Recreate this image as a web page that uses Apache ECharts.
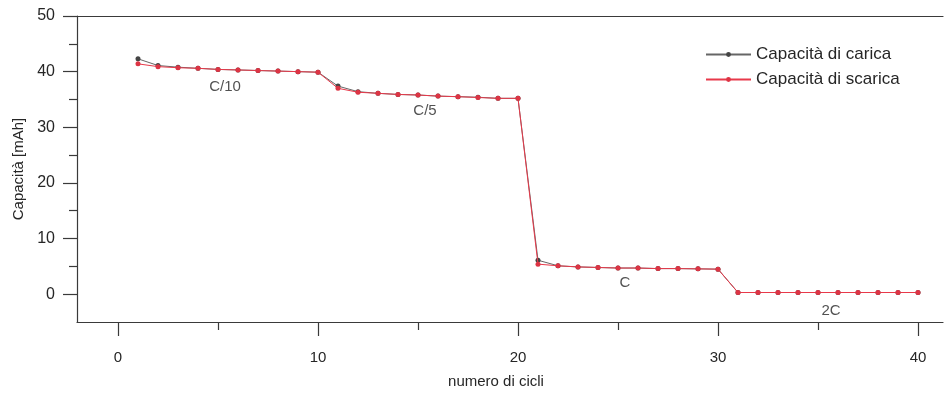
<!DOCTYPE html>
<html>
<head>
<meta charset="utf-8">
<script src="https://cdn.jsdelivr.net/npm/echarts@6/dist/echarts.min.js"></script>
<style>
  html, body { margin: 0; padding: 0; background: #fff; }
  #chart { width: 944px; height: 394px; }
</style>
</head>
<body>
<div id="chart"></div>
<script>
// Cycle number for each measurement
const cycles = [1,2,3,4,5,6,7,8,9,10,11,12,13,14,15,16,17,18,19,20,21,22,23,24,25,26,27,28,29,30,31,32,33,34,35,36,37,38,39,40];

// Charge capacity per cycle [mAh]
const chargeCapacity = [
  42.3, 41.1, 40.8, 40.6, 40.4, 40.3, 40.2, 40.1, 40.0, 39.9,
  37.4, 36.4, 36.1, 35.9, 35.8, 35.6, 35.5, 35.4, 35.2, 35.2,
  6.1, 5.1, 4.9, 4.8, 4.7, 4.7, 4.6, 4.6, 4.55, 4.5,
  0.3, 0.3, 0.3, 0.3, 0.3, 0.3, 0.3, 0.3, 0.3, 0.3
];

// Discharge capacity per cycle [mAh]
const dischargeCapacity = [
  41.4, 40.9, 40.7, 40.6, 40.4, 40.3, 40.2, 40.1, 40.0, 39.9,
  37.0, 36.3, 36.1, 35.9, 35.8, 35.6, 35.5, 35.35, 35.2, 35.2,
  5.4, 5.1, 4.9, 4.8, 4.7, 4.7, 4.6, 4.6, 4.55, 4.5,
  0.3, 0.3, 0.3, 0.3, 0.3, 0.3, 0.3, 0.3, 0.3, 0.3
];

// C-rate of each block of ten cycles, and where its tag sits (cycle, mAh)
const rateTags = ['C/10', 'C/5', 'C', '2C'];
const rateTagAnchors = [[5.35, 37.3], [15.35, 33.0], [25.35, 2.1], [35.65, -3.0]];

// Axis ticks
const xMajorTicks = [0, 10, 20, 30, 40];
const xMinorTicks = [5, 15, 25, 35];
const yMajorTicks = [0, 10, 20, 30, 40, 50];
const yMinorTicks = [5, 15, 25, 35, 45];

const seriesNames = ['Capacità di carica', 'Capacità di scarica'];

const FONT = 'Liberation Sans, Arial, sans-serif';
const AXIS_COLOR = '#3a3a3a';
const TEXT_COLOR = '#262626';

const chart = echarts.init(document.getElementById('chart'), null, { renderer: 'canvas' });

const xBase = { type: 'value', min: -2.05, max: 41.25 };
const yBase = { type: 'value', min: -5, max: 50 };
const lineOf = show => ({ show: show, onZero: false, lineStyle: { color: AXIS_COLOR, width: 1.2 } });

chart.setOption({
  animation: false,
  backgroundColor: '#fff',
  textStyle: { fontFamily: FONT },
  grid: { left: 77, right: 1, top: 16, bottom: 70, containLabel: false },
  legend: {
    data: seriesNames,
    orient: 'vertical',
    left: 700,
    top: 41,
    itemWidth: 45,
    itemHeight: 6,
    itemGap: 8,
    textStyle: { fontFamily: FONT, fontSize: 17, color: TEXT_COLOR }
  },
  xAxis: [
    Object.assign({}, xBase, {
      position: 'bottom',
      name: 'numero di cicli',
      nameLocation: 'middle',
      nameGap: 52,
      nameTextStyle: { fontFamily: FONT, fontSize: 15, color: TEXT_COLOR, padding: [0, 28, 0, 0] },
      axisLine: lineOf(true),
      axisTick: { show: true, customValues: xMajorTicks, length: 14, lineStyle: { color: AXIS_COLOR, width: 1.2 } },
      axisLabel: { customValues: xMajorTicks, margin: 28, fontFamily: FONT, fontSize: 15, color: TEXT_COLOR },
      splitLine: { show: false }
    }),
    Object.assign({}, xBase, {
      position: 'bottom',
      axisLine: lineOf(false),
      axisTick: { show: true, customValues: xMinorTicks, length: 8, lineStyle: { color: AXIS_COLOR, width: 1.2 } },
      axisLabel: { show: false },
      splitLine: { show: false }
    }),
    Object.assign({}, xBase, {
      position: 'top',
      axisLine: lineOf(true),
      axisTick: { show: false },
      axisLabel: { show: false },
      splitLine: { show: false }
    })
  ],
  yAxis: [
    Object.assign({}, yBase, {
      position: 'left',
      name: 'Capacità [mAh]',
      nameLocation: 'middle',
      nameGap: 51,
      nameRotate: 90,
      nameTextStyle: { fontFamily: FONT, fontSize: 15, color: TEXT_COLOR },
      axisLine: lineOf(true),
      axisTick: { show: true, customValues: yMajorTicks, length: 14, lineStyle: { color: AXIS_COLOR, width: 1.2 } },
      axisLabel: { customValues: yMajorTicks, margin: 22, fontFamily: FONT, fontSize: 16, color: TEXT_COLOR },
      splitLine: { show: false }
    }),
    Object.assign({}, yBase, {
      position: 'left',
      axisLine: lineOf(false),
      axisTick: { show: true, customValues: yMinorTicks, length: 8, lineStyle: { color: AXIS_COLOR, width: 1.2 } },
      axisLabel: { show: false },
      splitLine: { show: false }
    })
  ],
  series: [
    {
      name: seriesNames[0],
      type: 'line',
      xAxisIndex: 0,
      yAxisIndex: 0,
      data: cycles.map((c, i) => [c, chargeCapacity[i]]),
      symbol: 'circle',
      symbolSize: 5,
      lineStyle: { color: '#666', width: 1 },
      itemStyle: { color: '#444' },
      z: 2
    },
    {
      name: seriesNames[1],
      type: 'line',
      xAxisIndex: 0,
      yAxisIndex: 0,
      data: cycles.map((c, i) => [c, dischargeCapacity[i]]),
      symbol: 'circle',
      symbolSize: 5,
      lineStyle: { color: '#e8394a', width: 1 },
      itemStyle: { color: '#dd3444' },
      z: 3
    },
    {
      name: 'rate',
      type: 'scatter',
      xAxisIndex: 0,
      yAxisIndex: 0,
      silent: true,
      symbolSize: 0,
      data: rateTags.map((t, i) => ({ name: t, value: rateTagAnchors[i] })),
      label: {
        show: true,
        position: 'inside',
        formatter: p => p.name,
        fontFamily: FONT,
        fontSize: 15,
        color: TEXT_COLOR
      },
      z: 4
    }
  ]
});
</script>
</body>
</html>
